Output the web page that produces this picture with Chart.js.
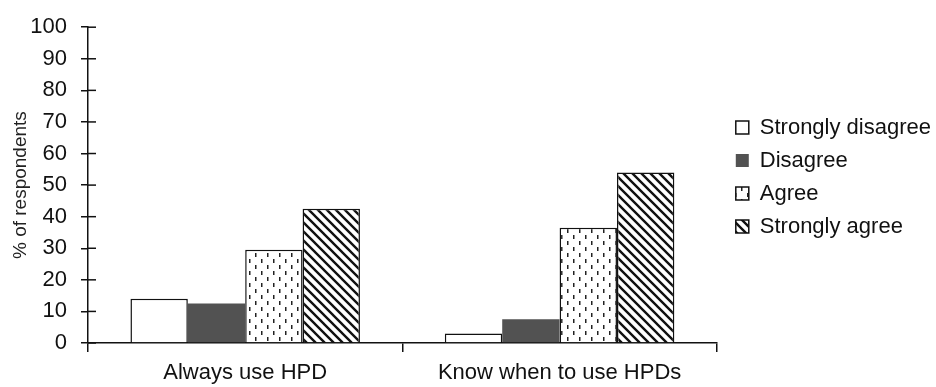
<!DOCTYPE html>
<html>
<head>
<meta charset="utf-8">
<script src="https://cdn.jsdelivr.net/npm/chart.js@4.4.1/dist/chart.umd.min.js"></script>
<style>
  html, body { margin: 0; background: #fff; }
  #wrap { width: 936px; height: 387px; }
</style>
</head>
<body>
<div id="wrap"><canvas id="chart"></canvas></div>
<script>
// values (% of respondents)
const categories = ["Always use HPD", "Know when to use HPDs"];
const seriesNames = ["Strongly disagree", "Disagree", "Agree", "Strongly agree"];
const stronglyDisagree = [14, 3];
const disagree = [12.5, 7.5];
const agree = [29.5, 36.5];
const stronglyAgree = [42.5, 54];
const yTicks = [0, 10, 20, 30, 40, 50, 60, 70, 80, 90, 100];

const INK = "#111";
Chart.defaults.font.family = "'Liberation Sans', Arial, sans-serif";
Chart.defaults.color = INK;

function makePattern(size, draw) {
  const c = document.createElement("canvas");
  c.width = c.height = size;
  const g = c.getContext("2d");
  g.fillStyle = "#fff";
  g.fillRect(0, 0, size, size);
  draw(g, size);
  return g.createPattern(c, "repeat");
}

// staggered vertical dashes
const dotted = makePattern(12, (g) => {
  g.fillStyle = "#222";
  g.fillRect(3, 1, 1.5, 4);
  g.fillRect(9, 7, 1.5, 4);
});

// "\" hatching
const hatched = makePattern(9, (g, s) => {
  g.strokeStyle = INK;
  g.lineWidth = 2.4;
  g.beginPath();
  g.moveTo(-1, -1); g.lineTo(s + 1, s + 1);
  g.moveTo(-1, s - 1); g.lineTo(1, s + 1);
  g.moveTo(s - 1, -1); g.lineTo(s + 1, 1);
  g.stroke();
});

// y ticks in the reference cross the axis, so add the inner half
const innerTicks = {
  id: "innerTicks",
  afterDatasetsDraw(chart) {
    const y = chart.scales.y;
    const left = chart.chartArea.left;
    const ctx = chart.ctx;
    ctx.save();
    ctx.strokeStyle = INK;
    ctx.lineWidth = 1.5;
    y.ticks.forEach((t) => {
      const py = y.getPixelForValue(t.value);
      ctx.beginPath();
      ctx.moveTo(left, py);
      ctx.lineTo(left + 8, py);
      ctx.stroke();
    });
    ctx.restore();
  },
};

// small shift so the legend sits where the original one does
const legendNudge = {
  id: "legendNudge",
  afterLayout(chart) {
    const l = chart.legend;
    if (!l) return;
    l.left += 8; l.right += 8;
    l.top -= 8; l.bottom -= 8;
  },
};

new Chart(document.getElementById("chart"), {
  type: "bar",
  data: {
    labels: categories,
    datasets: [
      { label: seriesNames[0], data: stronglyDisagree, backgroundColor: "#fff", borderColor: INK, borderWidth: 1.5 },
      { label: seriesNames[1], data: disagree, backgroundColor: "#525252", borderColor: "#525252", borderWidth: 0 },
      { label: seriesNames[2], data: agree, backgroundColor: dotted, borderColor: INK, borderWidth: 1.5 },
      { label: seriesNames[3], data: stronglyAgree, backgroundColor: hatched, borderColor: INK, borderWidth: 1.5 },
    ],
  },
  options: {
    responsive: true,
    maintainAspectRatio: false,
    animation: false,
    devicePixelRatio: 1,
    layout: { padding: { top: 22, right: 3, bottom: 0, left: 0 } },
    datasets: { bar: { categoryPercentage: 0.73, barPercentage: 1.0 } },
    plugins: {
      tooltip: { enabled: false },
      legend: {
        position: "right",
        fullSize: false,
        labels: {
          boxWidth: 13,
          boxHeight: 13,
          padding: 11,
          color: INK,
          font: { size: 22 },
        },
      },
    },
    scales: {
      x: {
        afterFit: (s) => { s.height = 44; },
        grid: { offset: true, drawOnChartArea: false, tickLength: 9, color: INK, lineWidth: 1.5 },
        border: { color: INK, width: 1.5 },
        ticks: { padding: 8, font: { size: 22 }, color: INK },
      },
      y: {
        min: 0,
        max: 100,
        afterFit: (s) => { s.width = 88; },
        afterBuildTicks: (s) => { s.ticks = yTicks.map((v) => ({ value: v })); },
        grid: { drawOnChartArea: false, tickLength: 7, color: INK, lineWidth: 1.5 },
        border: { color: INK, width: 1.5 },
        ticks: { padding: 14, font: { size: 22 }, color: INK },
        title: {
          display: true,
          text: "% of respondents",
          font: { size: 19 },
          color: "#222",
          padding: { top: 9, bottom: 0 },
        },
      },
    },
  },
  plugins: [innerTicks, legendNudge],
});
</script>
</body>
</html>
